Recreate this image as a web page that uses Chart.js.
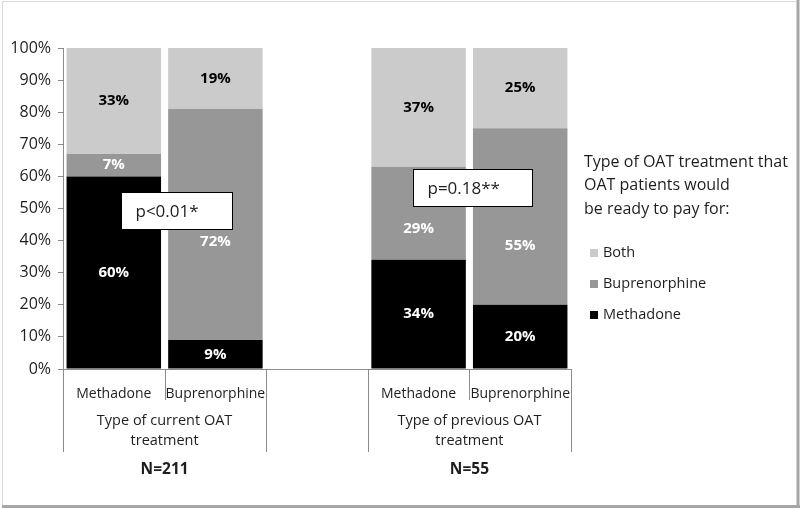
<!DOCTYPE html>
<html>
<head>
<meta charset="utf-8">
<script src="https://cdn.jsdelivr.net/npm/chart.js@4"></script>
<style>
  html, body { margin: 0; padding: 0; background: #fff; }
  #wrap { width: 800px; height: 509px; }
</style>
</head>
<body>
<div id="wrap"><canvas id="oatChart" width="800" height="509"></canvas></div>
<script>
// Stacked 100% bars: which OAT treatment patients would pay for.
const CATEGORIES = ["Methadone", "Buprenorphine", "", "Methadone", "Buprenorphine"];
const METHADONE = [60, 9, null, 34, 20];
const BUPRENORPHINE = [7, 72, null, 29, 55];
const BOTH = [33, 19, null, 37, 25];
const Y_TICKS = [0, 10, 20, 30, 40, 50, 60, 70, 80, 90, 100];

const GROUP_LABELS = [["Type of current OAT", "treatment"], ["Type of previous OAT", "treatment"]];
const GROUP_N = ["N=211", "N=55"];
const P_VALUES = ["p<0.01*", "p=0.18**"];
const LEGEND_TITLE = ["Type of OAT treatment that", "OAT patients would", "be ready to pay for:"];

const C_BOTH = "#cbcbcb";
const C_BUP = "#979797";
const C_METH = "#000000";
const AXIS = "#8c8c8c";
const INK = "#1e1e1e";
const FONT = "'Open Sans', 'DejaVu Sans', sans-serif";

// Group spans in category index terms, and where the p-value boxes sit (data coords).
const GROUPS = [{ from: 0, to: 1 }, { from: 3, to: 4 }];
const P_BOXES = [
  { x0: 0.07, x1: 1.16, y0: 55.1, y1: 43.6 },
  { x0: 2.94, x1: 4.12, y0: 62.3, y1: 50.8 }
];
// A few labels were nudged down in the original so they clear the p-value boxes.
const LABEL_NUDGE = { "1-1": 17, "1-3": 15, "1-4": 29 };

const frame = {
  id: "frame",
  beforeDraw(chart) {
    const { ctx, width, height } = chart;
    ctx.save();
    ctx.fillStyle = "#fff";
    ctx.fillRect(0, 0, width, height);
    ctx.strokeStyle = "#d9d9d9";
    ctx.lineWidth = 1;
    ctx.beginPath();
    ctx.moveTo(2.5, 1.5); ctx.lineTo(796, 1.5);
    ctx.moveTo(2.5, 1.5); ctx.lineTo(2.5, 505);
    ctx.stroke();
    ctx.strokeStyle = "#a6a6a6";
    ctx.lineWidth = 3;
    ctx.beginPath();
    ctx.moveTo(798, 0); ctx.lineTo(798, 508);
    ctx.moveTo(2, 506.5); ctx.lineTo(800, 506.5);
    ctx.stroke();
    ctx.restore();
  }
};

const barLabels = {
  id: "barLabels",
  afterDatasetsDraw(chart) {
    const { ctx } = chart;
    ctx.save();
    ctx.font = "bold 15px " + FONT;
    ctx.textAlign = "center";
    ctx.textBaseline = "middle";
    chart.data.datasets.forEach((ds, di) => {
      chart.getDatasetMeta(di).data.forEach((bar, i) => {
        const v = ds.data[i];
        if (v == null) return;
        const mid = (bar.y + bar.base) / 2 + (LABEL_NUDGE[di + "-" + i] || 0);
        ctx.fillStyle = di === 2 ? "#000" : "#fff";
        ctx.fillText(v + "%", bar.x, mid);
      });
    });
    ctx.restore();
  }
};

const groupAxis = {
  id: "groupAxis",
  afterDraw(chart) {
    const { ctx } = chart;
    const x = chart.scales.x;
    const y = chart.scales.y;
    const base = y.getPixelForValue(0);
    const half = (x.getPixelForValue(1) - x.getPixelForValue(0)) / 2;
    ctx.save();
    ctx.strokeStyle = AXIS;
    ctx.lineWidth = 1;
    ctx.beginPath();
    GROUPS.forEach((g) => {
      const left = Math.round(x.getPixelForValue(g.from) - half) + 0.5;
      const right = Math.round(x.getPixelForValue(g.to) + half) + 0.5;
      ctx.moveTo(left, base); ctx.lineTo(left, base + 83);
      ctx.moveTo(right, base); ctx.lineTo(right, base + 83);
      for (let i = g.from; i < g.to; i++) {
        const mid = Math.round(x.getPixelForValue(i) + half) + 0.5;
        ctx.moveTo(mid, base); ctx.lineTo(mid, base + 31);
      }
    });
    ctx.stroke();

    ctx.fillStyle = INK;
    ctx.textAlign = "center";
    ctx.textBaseline = "middle";
    GROUPS.forEach((g, gi) => {
      const cx = (x.getPixelForValue(g.from) + x.getPixelForValue(g.to)) / 2;
      ctx.font = "14.5px " + FONT;
      GROUP_LABELS[gi].forEach((line, li) => ctx.fillText(line, cx, base + 52 + li * 20));
      ctx.font = "bold 15.5px " + FONT;
      ctx.fillText(GROUP_N[gi], cx, base + 101);
    });

    // p-value boxes
    ctx.font = "17px " + FONT;
    ctx.textAlign = "left";
    P_BOXES.forEach((b, bi) => {
      const l = Math.round(x.getPixelForValue(b.x0)) + 0.5;
      const r = Math.round(x.getPixelForValue(b.x1)) + 0.5;
      const t = Math.round(y.getPixelForValue(b.y0)) + 0.5;
      const btm = Math.round(y.getPixelForValue(b.y1)) + 0.5;
      ctx.fillStyle = "#fff";
      ctx.fillRect(l, t, r - l, btm - t);
      ctx.strokeStyle = "#000";
      ctx.strokeRect(l, t, r - l, btm - t);
      ctx.fillStyle = INK;
      ctx.fillText(P_VALUES[bi], l + 14, (t + btm) / 2 + 1);
    });

    // legend
    ctx.font = "16px " + FONT;
    ctx.fillStyle = INK;
    LEGEND_TITLE.forEach((line, li) => ctx.fillText(line, 584, 162 + li * 23.5));
    ctx.font = "14.5px " + FONT;
    const items = [["Both", C_BOTH], ["Buprenorphine", C_BUP], ["Methadone", C_METH]];
    items.forEach(([name, col], ii) => {
      const yy = 253 + ii * 31;
      ctx.fillStyle = col;
      ctx.fillRect(590, yy - 4, 8, 8);
      ctx.fillStyle = INK;
      ctx.fillText(name, 603, yy);
    });
    ctx.restore();
  }
};

const datasets = [
  { label: "Methadone", data: METHADONE, backgroundColor: C_METH },
  { label: "Buprenorphine", data: BUPRENORPHINE, backgroundColor: C_BUP },
  { label: "Both", data: BOTH, backgroundColor: C_BOTH }
].map((d) => Object.assign(d, { barPercentage: 0.93, categoryPercentage: 1 }));

new Chart(document.getElementById("oatChart"), {
  type: "bar",
  data: { labels: CATEGORIES, datasets },
  options: {
    responsive: false,
    animation: false,
    layout: { padding: { left: 0, top: 48, right: 229, bottom: 0 } },
    plugins: { legend: { display: false }, tooltip: { enabled: false } },
    scales: {
      x: {
        stacked: true,
        afterFit: (s) => { s.height = 140; },
        grid: { display: false },
        border: { color: AXIS },
        ticks: { color: INK, font: { family: FONT, size: 14 }, padding: 9, maxRotation: 0, autoSkip: false }
      },
      y: {
        stacked: true,
        min: 0,
        max: 100,
        afterFit: (s) => { s.width = 63; },
        afterBuildTicks: (s) => { s.ticks = Y_TICKS.map((v) => ({ value: v })); },
        grid: { drawOnChartArea: false, color: AXIS, tickLength: 5 },
        border: { color: AXIS },
        ticks: { color: INK, padding: 7, font: { family: FONT, size: 16 }, callback: (v) => v + "%" }
      }
    }
  },
  plugins: [frame, barLabels, groupAxis]
});
</script>
</body>
</html>
